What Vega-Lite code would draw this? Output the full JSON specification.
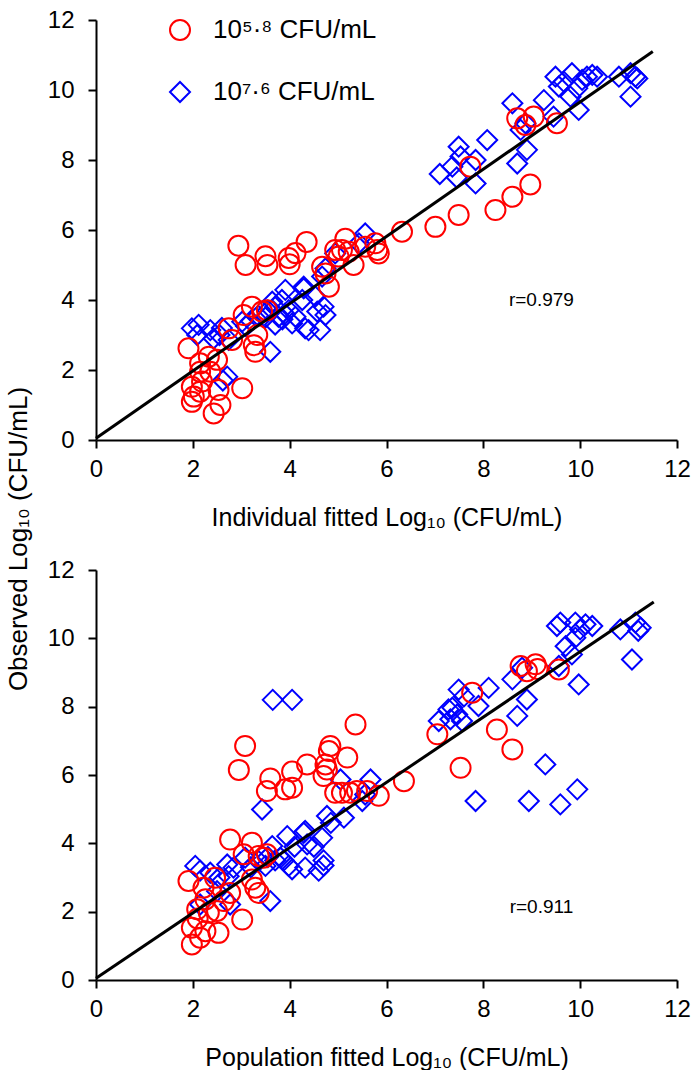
{
  "$schema": "https://vega.github.io/schema/vega-lite/v6.json",
  "padding": {"left": 6, "top": 8, "right": 10, "bottom": 0},
  "config": {
    "font": "Liberation Sans",
    "view": {"stroke": null},
    "axis": {"grid": false, "domainColor": "#000", "domainWidth": 2, "tickColor": "#000", "tickWidth": 2, "tickSize": 8, "labelFontSize": 24, "labelColor": "#000", "labelFlush": false, "titleFontSize": 25, "titleFontWeight": "normal", "titleColor": "#000"},
    "axisX": {"labelPadding": 9, "titlePadding": 24},
    "axisY": {"labelPadding": 14},
    "legend": {"title": null, "orient": "none", "legendX": 71, "legendY": -3, "labelFontSize": 26, "labelLimit": 500, "labelColor": "#000", "labelOffset": 20, "rowPadding": 34, "symbolStrokeWidth": 2, "symbolSize": 400}
  },
  "title": {"text": "Observed Log₁₀ (CFU/mL)", "orient": "left", "anchor": "middle", "fontSize": 26, "fontWeight": "normal", "color": "#000", "offset": 15},
  "datasets": {
    "pts": [
      {"p":"ind","s":"10⁷·⁶ CFU/mL","x":1.98,"y":3.19},{"p":"ind","s":"10⁷·⁶ CFU/mL","x":2.12,"y":3.29},{"p":"ind","s":"10⁷·⁶ CFU/mL","x":2.09,"y":3.0},{"p":"ind","s":"10⁷·⁶ CFU/mL","x":2.36,"y":3.14},{"p":"ind","s":"10⁷·⁶ CFU/mL","x":2.43,"y":2.9},{"p":"ind","s":"10⁷·⁶ CFU/mL","x":2.71,"y":1.81},{"p":"ind","s":"10⁷·⁶ CFU/mL","x":2.62,"y":1.7},{"p":"ind","s":"10⁷·⁶ CFU/mL","x":2.74,"y":2.86},{"p":"ind","s":"10⁷·⁶ CFU/mL","x":3.02,"y":3.38},{"p":"ind","s":"10⁷·⁶ CFU/mL","x":3.6,"y":2.52},
      {"p":"ind","s":"10⁷·⁶ CFU/mL","x":3.91,"y":4.29},{"p":"ind","s":"10⁷·⁶ CFU/mL","x":3.84,"y":4.0},{"p":"ind","s":"10⁷·⁶ CFU/mL","x":3.64,"y":3.95},{"p":"ind","s":"10⁷·⁶ CFU/mL","x":3.77,"y":3.52},{"p":"ind","s":"10⁷·⁶ CFU/mL","x":3.98,"y":3.71},{"p":"ind","s":"10⁷·⁶ CFU/mL","x":4.05,"y":3.33},{"p":"ind","s":"10⁷·⁶ CFU/mL","x":4.29,"y":4.38},{"p":"ind","s":"10⁷·⁶ CFU/mL","x":4.32,"y":3.19},{"p":"ind","s":"10⁷·⁶ CFU/mL","x":3.2,"y":3.4},{"p":"ind","s":"10⁷·⁶ CFU/mL","x":3.35,"y":3.55},
      {"p":"ind","s":"10⁷·⁶ CFU/mL","x":3.5,"y":3.5},{"p":"ind","s":"10⁷·⁶ CFU/mL","x":3.55,"y":3.7},{"p":"ind","s":"10⁷·⁶ CFU/mL","x":3.7,"y":3.8},{"p":"ind","s":"10⁷·⁶ CFU/mL","x":3.85,"y":3.45},{"p":"ind","s":"10⁷·⁶ CFU/mL","x":3.9,"y":3.6},{"p":"ind","s":"10⁷·⁶ CFU/mL","x":3.7,"y":3.3},{"p":"ind","s":"10⁷·⁶ CFU/mL","x":2.55,"y":3.0},{"p":"ind","s":"10⁷·⁶ CFU/mL","x":2.6,"y":3.2},{"p":"ind","s":"10⁷·⁶ CFU/mL","x":3.1,"y":3.25},
      {"p":"ind","s":"10⁷·⁶ CFU/mL","x":5.56,"y":5.9},{"p":"ind","s":"10⁷·⁶ CFU/mL","x":5.43,"y":5.62},{"p":"ind","s":"10⁷·⁶ CFU/mL","x":4.94,"y":5.33},{"p":"ind","s":"10⁷·⁶ CFU/mL","x":4.74,"y":4.9},{"p":"ind","s":"10⁷·⁶ CFU/mL","x":4.67,"y":4.67},{"p":"ind","s":"10⁷·⁶ CFU/mL","x":4.29,"y":4.33},{"p":"ind","s":"10⁷·⁶ CFU/mL","x":4.26,"y":4.0},{"p":"ind","s":"10⁷·⁶ CFU/mL","x":4.12,"y":3.52},{"p":"ind","s":"10⁷·⁶ CFU/mL","x":4.39,"y":3.14},{"p":"ind","s":"10⁷·⁶ CFU/mL","x":4.63,"y":3.14},
      {"p":"ind","s":"10⁷·⁶ CFU/mL","x":4.7,"y":3.81},{"p":"ind","s":"10⁷·⁶ CFU/mL","x":4.74,"y":3.57},{"p":"ind","s":"10⁷·⁶ CFU/mL","x":4.57,"y":3.67},{"p":"ind","s":"10⁷·⁶ CFU/mL","x":4.53,"y":4.1},
      {"p":"ind","s":"10⁷·⁶ CFU/mL","x":7.36,"y":7.81},{"p":"ind","s":"10⁷·⁶ CFU/mL","x":7.49,"y":8.38},{"p":"ind","s":"10⁷·⁶ CFU/mL","x":7.53,"y":8.1},{"p":"ind","s":"10⁷·⁶ CFU/mL","x":7.1,"y":7.6},{"p":"ind","s":"10⁷·⁶ CFU/mL","x":7.45,"y":7.5},{"p":"ind","s":"10⁷·⁶ CFU/mL","x":7.84,"y":8.0},{"p":"ind","s":"10⁷·⁶ CFU/mL","x":7.84,"y":7.33},{"p":"ind","s":"10⁷·⁶ CFU/mL","x":8.08,"y":8.57},{"p":"ind","s":"10⁷·⁶ CFU/mL","x":8.6,"y":9.62},{"p":"ind","s":"10⁷·⁶ CFU/mL","x":8.7,"y":7.9},
      {"p":"ind","s":"10⁷·⁶ CFU/mL","x":8.9,"y":8.29},{"p":"ind","s":"10⁷·⁶ CFU/mL","x":8.77,"y":8.86},{"p":"ind","s":"10⁷·⁶ CFU/mL","x":8.87,"y":9.05},{"p":"ind","s":"10⁷·⁶ CFU/mL","x":9.25,"y":9.71},{"p":"ind","s":"10⁷·⁶ CFU/mL","x":9.45,"y":9.24},{"p":"ind","s":"10⁷·⁶ CFU/mL","x":9.49,"y":10.38},{"p":"ind","s":"10⁷·⁶ CFU/mL","x":9.56,"y":10.1},{"p":"ind","s":"10⁷·⁶ CFU/mL","x":9.66,"y":10.24},{"p":"ind","s":"10⁷·⁶ CFU/mL","x":9.83,"y":10.48},{"p":"ind","s":"10⁷·⁶ CFU/mL","x":9.8,"y":9.81},
      {"p":"ind","s":"10⁷·⁶ CFU/mL","x":9.94,"y":10.05},{"p":"ind","s":"10⁷·⁶ CFU/mL","x":9.97,"y":9.43},{"p":"ind","s":"10⁷·⁶ CFU/mL","x":10.04,"y":10.29},{"p":"ind","s":"10⁷·⁶ CFU/mL","x":10.14,"y":10.38},{"p":"ind","s":"10⁷·⁶ CFU/mL","x":10.25,"y":10.43},{"p":"ind","s":"10⁷·⁶ CFU/mL","x":10.35,"y":10.38},{"p":"ind","s":"10⁷·⁶ CFU/mL","x":10.8,"y":10.38},{"p":"ind","s":"10⁷·⁶ CFU/mL","x":11.04,"y":10.48},{"p":"ind","s":"10⁷·⁶ CFU/mL","x":11.14,"y":10.38},{"p":"ind","s":"10⁷·⁶ CFU/mL","x":11.18,"y":10.33},{"p":"ind","s":"10⁷·⁶ CFU/mL","x":11.04,"y":9.81},
      {"p":"ind","s":"10⁵·⁸ CFU/mL","x":1.91,"y":2.62},{"p":"ind","s":"10⁵·⁸ CFU/mL","x":2.15,"y":2.19},{"p":"ind","s":"10⁵·⁸ CFU/mL","x":2.33,"y":2.38},{"p":"ind","s":"10⁵·⁸ CFU/mL","x":2.5,"y":2.29},{"p":"ind","s":"10⁵·⁸ CFU/mL","x":2.15,"y":1.95},{"p":"ind","s":"10⁵·⁸ CFU/mL","x":2.36,"y":1.95},{"p":"ind","s":"10⁵·⁸ CFU/mL","x":1.98,"y":1.52},{"p":"ind","s":"10⁵·⁸ CFU/mL","x":2.02,"y":1.24},{"p":"ind","s":"10⁵·⁸ CFU/mL","x":1.98,"y":1.09},{"p":"ind","s":"10⁵·⁸ CFU/mL","x":2.15,"y":1.38},
      {"p":"ind","s":"10⁵·⁸ CFU/mL","x":2.53,"y":1.43},{"p":"ind","s":"10⁵·⁸ CFU/mL","x":2.57,"y":1.0},{"p":"ind","s":"10⁵·⁸ CFU/mL","x":2.43,"y":0.76},{"p":"ind","s":"10⁵·⁸ CFU/mL","x":3.02,"y":1.48},{"p":"ind","s":"10⁵·⁸ CFU/mL","x":2.19,"y":1.67},{"p":"ind","s":"10⁵·⁸ CFU/mL","x":2.74,"y":3.19},{"p":"ind","s":"10⁵·⁸ CFU/mL","x":2.81,"y":2.86},{"p":"ind","s":"10⁵·⁸ CFU/mL","x":3.05,"y":3.57},{"p":"ind","s":"10⁵·⁸ CFU/mL","x":3.22,"y":3.81},{"p":"ind","s":"10⁵·⁸ CFU/mL","x":3.33,"y":3.0},
      {"p":"ind","s":"10⁵·⁸ CFU/mL","x":3.26,"y":2.71},{"p":"ind","s":"10⁵·⁸ CFU/mL","x":3.29,"y":2.52},{"p":"ind","s":"10⁵·⁸ CFU/mL","x":3.43,"y":3.67},{"p":"ind","s":"10⁵·⁸ CFU/mL","x":3.53,"y":3.71},
      {"p":"ind","s":"10⁵·⁸ CFU/mL","x":2.94,"y":5.55},{"p":"ind","s":"10⁵·⁸ CFU/mL","x":3.09,"y":5.0},{"p":"ind","s":"10⁵·⁸ CFU/mL","x":3.5,"y":5.25},{"p":"ind","s":"10⁵·⁸ CFU/mL","x":3.54,"y":5.0},{"p":"ind","s":"10⁵·⁸ CFU/mL","x":3.98,"y":5.2},{"p":"ind","s":"10⁵·⁸ CFU/mL","x":4.12,"y":5.34},{"p":"ind","s":"10⁵·⁸ CFU/mL","x":4.0,"y":5.02},{"p":"ind","s":"10⁵·⁸ CFU/mL","x":4.35,"y":5.66},
      {"p":"ind","s":"10⁵·⁸ CFU/mL","x":4.67,"y":4.95},{"p":"ind","s":"10⁵·⁸ CFU/mL","x":4.74,"y":4.76},{"p":"ind","s":"10⁵·⁸ CFU/mL","x":4.81,"y":4.38},{"p":"ind","s":"10⁵·⁸ CFU/mL","x":4.94,"y":5.43},{"p":"ind","s":"10⁵·⁸ CFU/mL","x":5.08,"y":5.43},{"p":"ind","s":"10⁵·⁸ CFU/mL","x":5.22,"y":5.38},{"p":"ind","s":"10⁵·⁸ CFU/mL","x":5.32,"y":5.0},{"p":"ind","s":"10⁵·⁸ CFU/mL","x":5.01,"y":5.24},{"p":"ind","s":"10⁵·⁸ CFU/mL","x":5.15,"y":5.75},{"p":"ind","s":"10⁵·⁸ CFU/mL","x":5.77,"y":5.62},
      {"p":"ind","s":"10⁵·⁸ CFU/mL","x":5.81,"y":5.43},{"p":"ind","s":"10⁵·⁸ CFU/mL","x":5.84,"y":5.33},{"p":"ind","s":"10⁵·⁸ CFU/mL","x":5.56,"y":5.52},{"p":"ind","s":"10⁵·⁸ CFU/mL","x":6.32,"y":5.95},{"p":"ind","s":"10⁵·⁸ CFU/mL","x":7.01,"y":6.09},{"p":"ind","s":"10⁵·⁸ CFU/mL","x":7.49,"y":6.43},{"p":"ind","s":"10⁵·⁸ CFU/mL","x":8.25,"y":6.57},{"p":"ind","s":"10⁵·⁸ CFU/mL","x":8.6,"y":6.95},{"p":"ind","s":"10⁵·⁸ CFU/mL","x":8.97,"y":7.3},{"p":"ind","s":"10⁵·⁸ CFU/mL","x":7.73,"y":7.81},
      {"p":"ind","s":"10⁵·⁸ CFU/mL","x":8.7,"y":9.19},{"p":"ind","s":"10⁵·⁸ CFU/mL","x":8.87,"y":9.0},{"p":"ind","s":"10⁵·⁸ CFU/mL","x":9.04,"y":9.24},{"p":"ind","s":"10⁵·⁸ CFU/mL","x":9.52,"y":9.05},

      {"p":"pop","s":"10⁷·⁶ CFU/mL","x":2.05,"y":3.34},{"p":"pop","s":"10⁷·⁶ CFU/mL","x":2.15,"y":3.2},{"p":"pop","s":"10⁷·⁶ CFU/mL","x":2.36,"y":3.14},{"p":"pop","s":"10⁷·⁶ CFU/mL","x":2.71,"y":3.38},{"p":"pop","s":"10⁷·⁶ CFU/mL","x":2.84,"y":3.29},{"p":"pop","s":"10⁷·⁶ CFU/mL","x":3.08,"y":3.58},{"p":"pop","s":"10⁷·⁶ CFU/mL","x":3.36,"y":3.48},{"p":"pop","s":"10⁷·⁶ CFU/mL","x":3.64,"y":3.92},{"p":"pop","s":"10⁷·⁶ CFU/mL","x":3.6,"y":2.31},{"p":"pop","s":"10⁷·⁶ CFU/mL","x":3.95,"y":4.21},
      {"p":"pop","s":"10⁷·⁶ CFU/mL","x":3.98,"y":3.34},{"p":"pop","s":"10⁷·⁶ CFU/mL","x":4.05,"y":3.24},{"p":"pop","s":"10⁷·⁶ CFU/mL","x":3.81,"y":3.58},{"p":"pop","s":"10⁷·⁶ CFU/mL","x":3.88,"y":3.5},{"p":"pop","s":"10⁷·⁶ CFU/mL","x":4.29,"y":4.31},{"p":"pop","s":"10⁷·⁶ CFU/mL","x":4.36,"y":3.97},{"p":"pop","s":"10⁷·⁶ CFU/mL","x":4.32,"y":3.29},{"p":"pop","s":"10⁷·⁶ CFU/mL","x":2.77,"y":2.21},{"p":"pop","s":"10⁷·⁶ CFU/mL","x":2.74,"y":3.04},{"p":"pop","s":"10⁷·⁶ CFU/mL","x":2.15,"y":2.21},
      {"p":"pop","s":"10⁷·⁶ CFU/mL","x":3.5,"y":3.34},{"p":"pop","s":"10⁷·⁶ CFU/mL","x":3.7,"y":3.5},{"p":"pop","s":"10⁷·⁶ CFU/mL","x":3.55,"y":3.6},{"p":"pop","s":"10⁷·⁶ CFU/mL","x":2.55,"y":3.0},{"p":"pop","s":"10⁷·⁶ CFU/mL","x":2.5,"y":2.6},{"p":"pop","s":"10⁷·⁶ CFU/mL","x":3.2,"y":3.3},{"p":"pop","s":"10⁷·⁶ CFU/mL","x":3.43,"y":4.99},{"p":"pop","s":"10⁷·⁶ CFU/mL","x":3.65,"y":8.2},{"p":"pop","s":"10⁷·⁶ CFU/mL","x":4.05,"y":8.2},
      {"p":"pop","s":"10⁷·⁶ CFU/mL","x":5.67,"y":5.87},{"p":"pop","s":"10⁷·⁶ CFU/mL","x":5.56,"y":5.43},{"p":"pop","s":"10⁷·⁶ CFU/mL","x":5.5,"y":5.24},{"p":"pop","s":"10⁷·⁶ CFU/mL","x":5.05,"y":5.87},{"p":"pop","s":"10⁷·⁶ CFU/mL","x":5.12,"y":4.75},{"p":"pop","s":"10⁷·⁶ CFU/mL","x":4.77,"y":4.8},{"p":"pop","s":"10⁷·⁶ CFU/mL","x":4.32,"y":4.36},{"p":"pop","s":"10⁷·⁶ CFU/mL","x":4.67,"y":4.16},{"p":"pop","s":"10⁷·⁶ CFU/mL","x":4.6,"y":3.2},{"p":"pop","s":"10⁷·⁶ CFU/mL","x":4.7,"y":3.5},
      {"p":"pop","s":"10⁷·⁶ CFU/mL","x":4.7,"y":3.35},{"p":"pop","s":"10⁷·⁶ CFU/mL","x":4.5,"y":3.9},{"p":"pop","s":"10⁷·⁶ CFU/mL","x":4.85,"y":4.6},{"p":"pop","s":"10⁷·⁶ CFU/mL","x":4.1,"y":3.9},
      {"p":"pop","s":"10⁷·⁶ CFU/mL","x":7.49,"y":8.5},{"p":"pop","s":"10⁷·⁶ CFU/mL","x":7.36,"y":7.97},{"p":"pop","s":"10⁷·⁶ CFU/mL","x":7.46,"y":7.77},{"p":"pop","s":"10⁷·⁶ CFU/mL","x":7.32,"y":7.63},{"p":"pop","s":"10⁷·⁶ CFU/mL","x":7.9,"y":8.02},{"p":"pop","s":"10⁷·⁶ CFU/mL","x":8.11,"y":8.55},{"p":"pop","s":"10⁷·⁶ CFU/mL","x":8.6,"y":8.8},{"p":"pop","s":"10⁷·⁶ CFU/mL","x":8.9,"y":8.21},{"p":"pop","s":"10⁷·⁶ CFU/mL","x":8.7,"y":7.73},{"p":"pop","s":"10⁷·⁶ CFU/mL","x":9.52,"y":10.36},
      {"p":"pop","s":"10⁷·⁶ CFU/mL","x":9.59,"y":10.46},{"p":"pop","s":"10⁷·⁶ CFU/mL","x":9.9,"y":10.46},{"p":"pop","s":"10⁷·⁶ CFU/mL","x":9.7,"y":9.77},{"p":"pop","s":"10⁷·⁶ CFU/mL","x":9.9,"y":10.02},{"p":"pop","s":"10⁷·⁶ CFU/mL","x":10.11,"y":10.41},{"p":"pop","s":"10⁷·⁶ CFU/mL","x":10.25,"y":10.36},{"p":"pop","s":"10⁷·⁶ CFU/mL","x":10.0,"y":10.26},{"p":"pop","s":"10⁷·⁶ CFU/mL","x":9.83,"y":9.53},{"p":"pop","s":"10⁷·⁶ CFU/mL","x":9.97,"y":8.65},{"p":"pop","s":"10⁷·⁶ CFU/mL","x":10.83,"y":10.26},
      {"p":"pop","s":"10⁷·⁶ CFU/mL","x":11.14,"y":10.46},{"p":"pop","s":"10⁷·⁶ CFU/mL","x":11.25,"y":10.31},{"p":"pop","s":"10⁷·⁶ CFU/mL","x":11.2,"y":10.22},{"p":"pop","s":"10⁷·⁶ CFU/mL","x":11.07,"y":9.38},{"p":"pop","s":"10⁷·⁶ CFU/mL","x":9.28,"y":6.31},{"p":"pop","s":"10⁷·⁶ CFU/mL","x":7.84,"y":5.24},{"p":"pop","s":"10⁷·⁶ CFU/mL","x":8.94,"y":5.24},{"p":"pop","s":"10⁷·⁶ CFU/mL","x":9.59,"y":5.14},{"p":"pop","s":"10⁷·⁶ CFU/mL","x":9.94,"y":5.58},{"p":"pop","s":"10⁷·⁶ CFU/mL","x":9.56,"y":9.19},
      {"p":"pop","s":"10⁷·⁶ CFU/mL","x":8.8,"y":9.14},{"p":"pop","s":"10⁷·⁶ CFU/mL","x":7.08,"y":7.58},{"p":"pop","s":"10⁷·⁶ CFU/mL","x":7.28,"y":7.92},{"p":"pop","s":"10⁷·⁶ CFU/mL","x":7.56,"y":7.58},{"p":"pop","s":"10⁷·⁶ CFU/mL","x":7.6,"y":8.3},
      {"p":"pop","s":"10⁵·⁸ CFU/mL","x":2.77,"y":4.11},{"p":"pop","s":"10⁵·⁸ CFU/mL","x":3.22,"y":4.02},{"p":"pop","s":"10⁵·⁸ CFU/mL","x":3.05,"y":3.68},{"p":"pop","s":"10⁵·⁸ CFU/mL","x":3.36,"y":3.63},{"p":"pop","s":"10⁵·⁸ CFU/mL","x":3.46,"y":3.58},{"p":"pop","s":"10⁵·⁸ CFU/mL","x":3.53,"y":3.68},{"p":"pop","s":"10⁵·⁸ CFU/mL","x":3.29,"y":2.7},{"p":"pop","s":"10⁵·⁸ CFU/mL","x":3.36,"y":2.55},{"p":"pop","s":"10⁵·⁸ CFU/mL","x":3.22,"y":2.94},{"p":"pop","s":"10⁵·⁸ CFU/mL","x":1.91,"y":2.9},
      {"p":"pop","s":"10⁵·⁸ CFU/mL","x":2.46,"y":2.99},{"p":"pop","s":"10⁵·⁸ CFU/mL","x":2.22,"y":2.7},{"p":"pop","s":"10⁵·⁸ CFU/mL","x":2.26,"y":2.36},{"p":"pop","s":"10⁵·⁸ CFU/mL","x":2.64,"y":2.31},{"p":"pop","s":"10⁵·⁸ CFU/mL","x":2.77,"y":2.55},{"p":"pop","s":"10⁵·⁸ CFU/mL","x":2.09,"y":2.07},{"p":"pop","s":"10⁵·⁸ CFU/mL","x":2.33,"y":1.97},{"p":"pop","s":"10⁵·⁸ CFU/mL","x":2.5,"y":2.02},{"p":"pop","s":"10⁵·⁸ CFU/mL","x":3.02,"y":1.77},{"p":"pop","s":"10⁵·⁸ CFU/mL","x":1.98,"y":1.53},
      {"p":"pop","s":"10⁵·⁸ CFU/mL","x":2.26,"y":1.43},{"p":"pop","s":"10⁵·⁸ CFU/mL","x":2.15,"y":1.24},{"p":"pop","s":"10⁵·⁸ CFU/mL","x":1.98,"y":1.04},{"p":"pop","s":"10⁵·⁸ CFU/mL","x":2.53,"y":1.38},{"p":"pop","s":"10⁵·⁸ CFU/mL","x":2.1,"y":1.8},
      {"p":"pop","s":"10⁵·⁸ CFU/mL","x":2.95,"y":6.15},{"p":"pop","s":"10⁵·⁸ CFU/mL","x":3.08,"y":6.85},{"p":"pop","s":"10⁵·⁸ CFU/mL","x":3.53,"y":5.53},{"p":"pop","s":"10⁵·⁸ CFU/mL","x":3.6,"y":5.9},{"p":"pop","s":"10⁵·⁸ CFU/mL","x":3.91,"y":5.58},{"p":"pop","s":"10⁵·⁸ CFU/mL","x":4.05,"y":5.63},{"p":"pop","s":"10⁵·⁸ CFU/mL","x":4.05,"y":6.1},{"p":"pop","s":"10⁵·⁸ CFU/mL","x":4.36,"y":6.31},{"p":"pop","s":"10⁵·⁸ CFU/mL","x":5.36,"y":7.48},{"p":"pop","s":"10⁵·⁸ CFU/mL","x":4.84,"y":6.85},
      {"p":"pop","s":"10⁵·⁸ CFU/mL","x":4.81,"y":6.7},{"p":"pop","s":"10⁵·⁸ CFU/mL","x":5.19,"y":6.51},{"p":"pop","s":"10⁵·⁸ CFU/mL","x":4.74,"y":6.31},{"p":"pop","s":"10⁵·⁸ CFU/mL","x":4.77,"y":6.16},{"p":"pop","s":"10⁵·⁸ CFU/mL","x":4.7,"y":5.97},{"p":"pop","s":"10⁵·⁸ CFU/mL","x":4.94,"y":5.48},{"p":"pop","s":"10⁵·⁸ CFU/mL","x":5.08,"y":5.48},{"p":"pop","s":"10⁵·⁸ CFU/mL","x":5.25,"y":5.48},{"p":"pop","s":"10⁵·⁸ CFU/mL","x":5.39,"y":5.53},{"p":"pop","s":"10⁵·⁸ CFU/mL","x":5.6,"y":5.53},
      {"p":"pop","s":"10⁵·⁸ CFU/mL","x":5.84,"y":5.39},{"p":"pop","s":"10⁵·⁸ CFU/mL","x":6.36,"y":5.82},{"p":"pop","s":"10⁵·⁸ CFU/mL","x":7.05,"y":7.19},{"p":"pop","s":"10⁵·⁸ CFU/mL","x":7.77,"y":8.41},{"p":"pop","s":"10⁵·⁸ CFU/mL","x":7.53,"y":6.21},{"p":"pop","s":"10⁵·⁸ CFU/mL","x":8.28,"y":7.33},{"p":"pop","s":"10⁵·⁸ CFU/mL","x":8.6,"y":6.75},{"p":"pop","s":"10⁵·⁸ CFU/mL","x":8.77,"y":9.19},{"p":"pop","s":"10⁵·⁸ CFU/mL","x":8.9,"y":9.04},{"p":"pop","s":"10⁵·⁸ CFU/mL","x":9.08,"y":9.24},
      {"p":"pop","s":"10⁵·⁸ CFU/mL","x":9.12,"y":9.1},{"p":"pop","s":"10⁵·⁸ CFU/mL","x":9.56,"y":9.09}
    ],
    "lines": [
      {"p":"ind","x":0,"y":0.05},{"p":"ind","x":11.5,"y":11.1},
      {"p":"pop","x":0,"y":0.05},{"p":"pop","x":11.52,"y":11.06}
    ],
    "labels": [
      {"p":"ind","x":9.2,"y":4.0,"t":"r=0.979"},
      {"p":"pop","x":9.2,"y":2.15,"t":"r=0.911"}
    ]
  },
  "resolve": {"legend": {"color": "independent", "shape": "independent"}},
  "spacing": 28,
  "vconcat": [
    {
      "width": 581,
      "height": 420,
      "layer": [
        {
          "data": {"name": "pts"},
          "transform": [{"filter": "datum.p == 'ind'"}],
          "mark": {"type": "point", "filled": false, "strokeWidth": 2, "opacity": 1, "size": 400},
          "encoding": {
            "x": {"field": "x", "type": "quantitative", "scale": {"domain": [0, 12]}, "axis": {"title": "Individual fitted Log₁₀ (CFU/mL)", "values": [0, 2, 4, 6, 8, 10, 12]}},
            "y": {"field": "y", "type": "quantitative", "scale": {"domain": [0, 12]}, "axis": {"title": null, "values": [0, 2, 4, 6, 8, 10, 12]}},
            "color": {"field": "s", "type": "nominal", "scale": {"domain": ["10⁵·⁸ CFU/mL", "10⁷·⁶ CFU/mL"], "range": ["#ff0000", "#0000ff"]}},
            "shape": {"field": "s", "type": "nominal", "scale": {"domain": ["10⁵·⁸ CFU/mL", "10⁷·⁶ CFU/mL"], "range": ["circle", "diamond"]}}
          }
        },
        {
          "data": {"name": "lines"},
          "transform": [{"filter": "datum.p == 'ind'"}],
          "mark": {"type": "line", "color": "#000", "strokeWidth": 3},
          "encoding": {"x": {"field": "x", "type": "quantitative"}, "y": {"field": "y", "type": "quantitative"}}
        },
        {
          "data": {"name": "labels"},
          "transform": [{"filter": "datum.p == 'ind'"}],
          "mark": {"type": "text", "fontSize": 19, "color": "#000", "align": "center", "baseline": "middle"},
          "encoding": {"x": {"field": "x", "type": "quantitative"}, "y": {"field": "y", "type": "quantitative"}, "text": {"field": "t"}}
        }
      ]
    },
    {
      "width": 581,
      "height": 410,
      "layer": [
        {
          "data": {"name": "pts"},
          "transform": [{"filter": "datum.p == 'pop'"}],
          "mark": {"type": "point", "filled": false, "strokeWidth": 2, "opacity": 1, "size": 400},
          "encoding": {
            "x": {"field": "x", "type": "quantitative", "scale": {"domain": [0, 12]}, "axis": {"title": "Population fitted Log₁₀ (CFU/mL)", "values": [0, 2, 4, 6, 8, 10, 12]}},
            "y": {"field": "y", "type": "quantitative", "scale": {"domain": [0, 12]}, "axis": {"title": null, "values": [0, 2, 4, 6, 8, 10, 12]}},
            "color": {"field": "s", "type": "nominal", "scale": {"domain": ["10⁵·⁸ CFU/mL", "10⁷·⁶ CFU/mL"], "range": ["#ff0000", "#0000ff"]}, "legend": null},
            "shape": {"field": "s", "type": "nominal", "scale": {"domain": ["10⁵·⁸ CFU/mL", "10⁷·⁶ CFU/mL"], "range": ["circle", "diamond"]}, "legend": null}
          }
        },
        {
          "data": {"name": "lines"},
          "transform": [{"filter": "datum.p == 'pop'"}],
          "mark": {"type": "line", "color": "#000", "strokeWidth": 3},
          "encoding": {"x": {"field": "x", "type": "quantitative"}, "y": {"field": "y", "type": "quantitative"}}
        },
        {
          "data": {"name": "labels"},
          "transform": [{"filter": "datum.p == 'pop'"}],
          "mark": {"type": "text", "fontSize": 19, "color": "#000", "align": "center", "baseline": "middle"},
          "encoding": {"x": {"field": "x", "type": "quantitative"}, "y": {"field": "y", "type": "quantitative"}, "text": {"field": "t"}}
        }
      ]
    }
  ]
}
